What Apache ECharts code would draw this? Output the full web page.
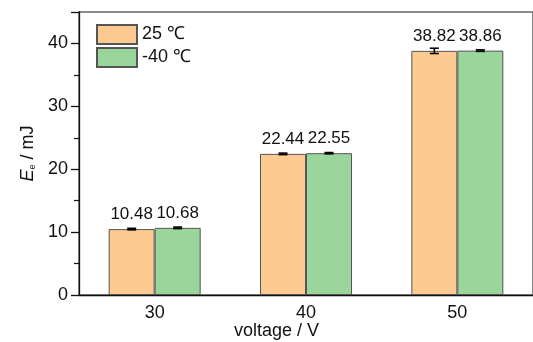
<!DOCTYPE html>
<html>
<head>
<meta charset="utf-8">
<script src="https://cdn.jsdelivr.net/npm/echarts@6/dist/echarts.min.js"></script>
<style>html,body{margin:0;padding:0;background:#fff}#c{width:533px;height:342px}</style>
</head>
<body>
<div id="c"></div>
<script>
const categories = ['30', '40', '50'];
const seriesNames = ['25 ℃', '-40 ℃'];
const values25 = [10.48, 22.44, 38.82];
const valuesM40 = [10.68, 22.55, 38.86];
const err25 = [0.12, 0.12, 0.42];
const errM40 = [0.12, 0.1, 0.12];
const yTicks = [0, 10, 20, 30, 40];

const FONT = 'Liberation Sans, Arial, sans-serif';
const chart = echarts.init(document.getElementById('c'));

function errSeries(vals, errs, side) {
  return {
    type: 'custom',
    z: 10,
    data: vals.map((v, i) => [i, v - errs[i], v + errs[i]]),
    renderItem: function (params, api) {
      const i = api.value(0);
      const off = side * 46 / 2;
      const lo = api.coord([i, api.value(1)]);
      const hi = api.coord([i, api.value(2)]);
      const x = lo[0] + off;
      const cw = 4.5;
      const st = { stroke: '#000', lineWidth: 1.6 };
      return {
        type: 'group',
        children: [
          { type: 'line', shape: { x1: x, y1: lo[1], x2: x, y2: hi[1] }, style: st },
          { type: 'line', shape: { x1: x - cw, y1: lo[1], x2: x + cw, y2: lo[1] }, style: st },
          { type: 'line', shape: { x1: x - cw, y1: hi[1], x2: x + cw, y2: hi[1] }, style: st }
        ]
      };
    }
  };
}

chart.setOption({
  animation: false,
  textStyle: { fontFamily: FONT },
  grid: { left: 79, top: 12, bottom: 47, right: -5, show: true, borderColor: '#666', borderWidth: 1.5, containLabel: false },
  legend: {
    orient: 'vertical', left: 91, top: 19, itemWidth: 40, itemHeight: 19, itemGap: 2, icon: 'rect',
    textStyle: { fontSize: 18, color: '#111', fontFamily: FONT },
    data: seriesNames
  },
  xAxis: {
    type: 'category', data: categories,
    axisLine: { lineStyle: { color: '#111', width: 1.3 } },
    axisTick: { alignWithLabel: true, length: 8, lineStyle: { color: '#111', width: 1.3 } },
    axisLabel: { fontSize: 18, color: '#111', margin: 9, fontFamily: FONT },
    splitLine: { show: false }
  },
  yAxis: {
    type: 'value', min: 0, max: 45, interval: 10,
    name: '{i|E}{s|e} / mJ', nameLocation: 'middle', nameGap: 40, nameRotate: 90,
    nameTextStyle: {
      rich: {
        i: { fontSize: 18, fontStyle: 'italic', color: '#111', fontFamily: FONT },
        s: { fontSize: 9, color: '#111', verticalAlign: 'bottom', padding: [7, 0, 0, 0], fontFamily: FONT }
      },
      fontSize: 18, color: '#111', fontFamily: FONT
    },
    axisLine: { show: true, lineStyle: { color: '#111', width: 1.3 } },
    axisTick: { show: true, length: 8, lineStyle: { color: '#111', width: 1.3 } },
    minorTick: { show: true, splitNumber: 2, length: 5, lineStyle: { color: '#111', width: 1.2 } },
    axisLabel: { fontSize: 18, color: '#111', margin: 11, showMaxLabel: false, fontFamily: FONT,
      formatter: v => (yTicks.indexOf(v) >= 0 ? String(v) : '') },
    splitLine: { show: false }
  },
  graphic: [{
    type: 'text', left: 234, top: 322,
    style: { text: 'voltage / V', fontSize: 18, fill: '#111', fontFamily: FONT }
  }],
  series: [
    {
      name: seriesNames[0], type: 'bar', data: values25, barWidth: 46, barGap: '0%',
      itemStyle: { color: '#FDCA92', borderColor: '#555', borderWidth: 1 },
      label: { show: true, position: 'top', distance: 6, fontSize: 17, color: '#111', fontFamily: FONT, formatter: p => p.value.toFixed(2) }
    },
    {
      name: seriesNames[1], type: 'bar', data: valuesM40, barWidth: 46, barGap: '0%',
      itemStyle: { color: '#9AD59B', borderColor: '#555', borderWidth: 1 },
      label: { show: true, position: 'top', distance: 6, fontSize: 17, color: '#111', fontFamily: FONT, formatter: p => p.value.toFixed(2) }
    },
    errSeries(values25, err25, -1),
    errSeries(valuesM40, errM40, 1)
  ]
});
</script>
</body>
</html>
